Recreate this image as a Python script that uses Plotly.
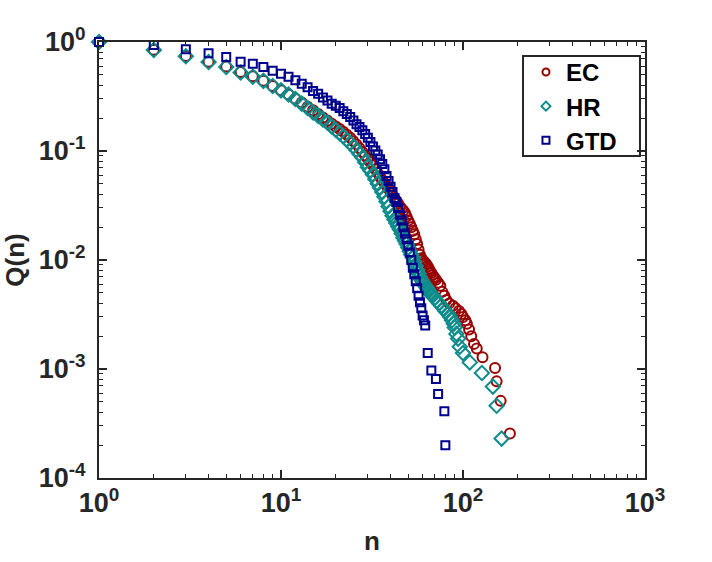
import plotly.graph_objects as go

# ---------------- data ----------------
ec_n = [1, 2, 3, 4, 5, 6, 7, 8, 9, 10, 11, 12, 13, 14, 15, 16, 17, 18, 19, 20,
        21, 22, 23, 24, 25, 26, 27, 28, 29, 30, 31, 32, 33, 34, 35, 36, 37, 38, 39, 40,
        41, 42, 43, 44, 45, 46, 47, 48, 49, 50, 51, 52, 53, 54, 55, 56, 57, 58, 59, 60,
        61, 62, 63, 64, 65, 66, 67, 68, 69, 70, 71, 73, 75, 77, 79, 81, 84, 88, 91, 95,
        98, 100, 103, 105, 108, 111, 115, 119, 128, 150, 153, 161, 181]
ec_q = [1.0, 0.85, 0.745, 0.66, 0.595, 0.53, 0.485, 0.44, 0.395, 0.36, 0.33, 0.302, 0.278, 0.255, 0.236, 0.218, 0.203, 0.19, 0.178, 0.168,
        0.159, 0.150, 0.141, 0.132, 0.123, 0.115, 0.106, 0.098, 0.091, 0.085, 0.079, 0.074, 0.068, 0.063, 0.058, 0.054, 0.051, 0.048, 0.045, 0.042,
        0.039, 0.037, 0.035, 0.033, 0.031, 0.0295, 0.0285, 0.027, 0.025, 0.023, 0.0215, 0.020, 0.0185, 0.0172, 0.0155, 0.014, 0.0125, 0.0112, 0.0104, 0.0100,
        0.0097, 0.0094, 0.0091, 0.0087, 0.0083, 0.0079, 0.0076, 0.0073, 0.0070, 0.0068, 0.0066, 0.0062, 0.0058, 0.0051, 0.0047, 0.0043, 0.0040, 0.0038, 0.0036, 0.0034,
        0.0032, 0.0030, 0.0028, 0.0026, 0.0023, 0.0020, 0.0017, 0.00154, 0.00128, 0.00102, 0.00077, 0.00051, 0.000256]

hr_n = [1, 2, 3, 4, 5, 6, 7, 8, 9, 10, 11, 12, 13, 14, 15, 16, 17, 18, 19, 20,
        21, 22, 23, 24, 25, 26, 27, 28, 29, 30, 31, 32, 33, 34, 35, 36, 37, 38, 39, 40,
        41, 42, 43, 44, 45, 46, 47, 48, 49, 50, 51, 52, 53, 54, 55, 56, 57, 58, 59, 60,
        61, 62, 63, 64, 65, 66, 67, 68, 70, 72, 74, 76, 78, 80, 83, 85, 87, 89, 90, 92,
        94, 96, 100, 109, 127, 146, 153, 163]
hr_q = [1.0, 0.845, 0.74, 0.655, 0.59, 0.525, 0.48, 0.44, 0.395, 0.36, 0.33, 0.30, 0.272, 0.248, 0.226, 0.21, 0.195, 0.182, 0.168, 0.156,
        0.146, 0.136, 0.127, 0.118, 0.11, 0.102, 0.094, 0.087, 0.079, 0.071, 0.066, 0.061, 0.055, 0.050, 0.046, 0.042, 0.038, 0.0345, 0.031, 0.028,
        0.0255, 0.0235, 0.0218, 0.0203, 0.019, 0.0175, 0.016, 0.015, 0.014, 0.013, 0.012, 0.0112, 0.0105, 0.0096, 0.0088, 0.0081, 0.0075, 0.0070, 0.0066, 0.0063,
        0.0060, 0.0058, 0.0056, 0.0054, 0.0052, 0.0050, 0.0048, 0.0047, 0.0045, 0.0042, 0.0040, 0.0038, 0.0036, 0.0034, 0.0032, 0.0030, 0.0028, 0.0026, 0.0024, 0.0021,
        0.0019, 0.0016, 0.0014, 0.00115, 0.00092, 0.00069, 0.00046, 0.00023]

gtd_n = [1, 2, 3, 4, 5, 6, 7, 8, 9, 10, 11, 12, 13, 14, 15, 16, 17, 18, 19, 20,
         21, 22, 23, 24, 25, 26, 27, 28, 29, 30, 31, 32, 33, 34, 35, 36, 37, 38, 39, 40,
         41, 42, 43, 44, 45, 46, 47, 48, 49, 50, 51, 52, 53, 54, 55, 56, 57, 58, 59, 60,
         61, 62, 64, 67, 71, 73, 79, 80]
gtd_q = [1.0, 0.94, 0.86, 0.79, 0.73, 0.66, 0.63, 0.59, 0.545, 0.51, 0.48, 0.445, 0.415, 0.385, 0.355, 0.335, 0.31, 0.29, 0.272, 0.26,
         0.248, 0.232, 0.218, 0.205, 0.19, 0.176, 0.166, 0.155, 0.143, 0.132, 0.121, 0.11, 0.101, 0.093, 0.084, 0.076, 0.068, 0.059, 0.053, 0.047,
         0.042, 0.037, 0.034, 0.030, 0.026, 0.023, 0.020, 0.0175, 0.0155, 0.0135, 0.0117, 0.0100, 0.0085, 0.0074, 0.0064, 0.0055, 0.0047, 0.0041, 0.0036, 0.0031,
         0.0028, 0.0025, 0.0014, 0.00097, 0.00081, 0.00059, 0.00041, 0.0002]

series_names = ["EC", "HR", "GTD"]
x_tick_vals = [1, 10, 100, 1000]
x_tick_text = ["10<sup>0</sup>", "10<sup>1</sup>", "10<sup>2</sup>", "10<sup>3</sup>"]
y_tick_vals = [1e-4, 1e-3, 1e-2, 1e-1, 1]
y_tick_text = ["10<sup>-4</sup>", "10<sup>-3</sup>", "10<sup>-2</sup>", "10<sup>-1</sup>", "10<sup>0</sup>"]

# ---------------- styling ----------------
INK = "#262626"
FONT = "Liberation Sans, Arial, sans-serif"
styles = [
    dict(symbol="circle-open", color="#990000", size=10),
    dict(symbol="diamond-open", color="#0e8c8c", size=11),
    dict(symbol="square-open", color="#00008b", size=8),
]

fig = go.Figure()
for name, xs, ys, st in zip(series_names, [ec_n, hr_n, gtd_n], [ec_q, hr_q, gtd_q], styles):
    fig.add_trace(go.Scatter(
        x=xs, y=ys, name=name, mode="markers", cliponaxis=False, showlegend=False,
        marker=dict(symbol=st["symbol"], size=st["size"], color=st["color"],
                    line=dict(width=2, color=st["color"])),
    ))
# legend entries with the small symbols used in the reference legend
for name, st in zip(series_names, styles):
    fig.add_trace(go.Scatter(
        x=[None], y=[None], name=name, mode="markers",
        marker=dict(symbol=st["symbol"], size=7, color=st["color"],
                    line=dict(width=2, color=st["color"])),
    ))

axis_common = dict(
    type="log", showgrid=False, zeroline=False, automargin=False,
    showline=True, linecolor=INK, linewidth=2, mirror="ticks",
    ticks="inside", ticklen=8, tickwidth=1.5, tickcolor=INK,
    tickfont=dict(family=FONT, size=27, color=INK, weight="bold"),
    minor=dict(ticks="inside", ticklen=4, tickwidth=1.2, tickcolor=INK, dtick="D1", showgrid=False),
)

fig.update_xaxes(**axis_common, range=[0, 3], tickvals=x_tick_vals, ticktext=x_tick_text,
                 title=dict(text="n", font=dict(family=FONT, size=26, color=INK, weight="bold"), standoff=14))
fig.update_yaxes(**axis_common, range=[-4, 0], tickvals=y_tick_vals, ticktext=y_tick_text,
                 ticklabelstandoff=6,
                 title=dict(text="Q(n)", font=dict(family=FONT, size=26, color=INK, weight="bold"), standoff=8))

# legend frame
fig.add_shape(type="rect", xref="paper", yref="paper",
              x0=0.7766, x1=0.9908, y0=0.7385, y1=0.9679,
              line=dict(color=INK, width=2), fillcolor="white", layer="below")

fig.update_layout(
    width=712, height=562,
    margin=dict(l=99, r=67, t=42, b=84),
    paper_bgcolor="white", plot_bgcolor="rgba(0,0,0,0)",
    legend=dict(x=0.782, y=0.982, xanchor="left", yanchor="top",
                bgcolor="rgba(0,0,0,0)", borderwidth=0,
                font=dict(family=FONT, size=24, color="black", weight="bold")),
)

fig.write_html("out.html", config={"displayModeBar": False},
               post_script="document.body.style.margin='0';")
